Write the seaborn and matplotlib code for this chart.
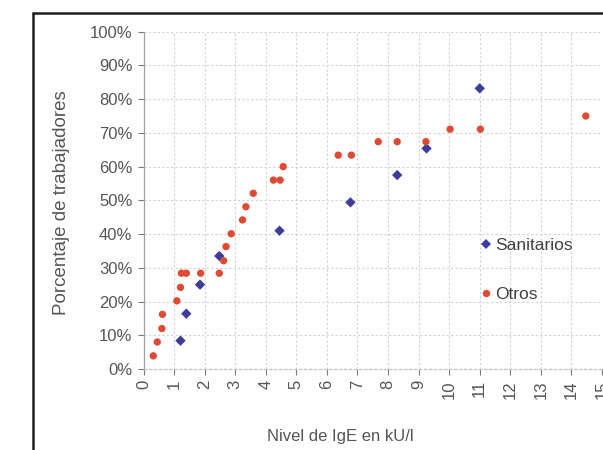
import matplotlib
matplotlib.use("Agg")
import matplotlib.pyplot as plt
import seaborn as sns
import pandas as pd
from matplotlib.ticker import PercentFormatter, MultipleLocator
from matplotlib.lines import Line2D

# Nivel de IgE (kU/l) y porcentaje acumulado de trabajadores
sanitarios_x = [1.21, 1.40, 1.85, 2.48, 4.45, 6.77, 8.30, 9.26, 11.00]
sanitarios_y = [8.4, 16.4, 25.0, 33.5, 41.0, 49.4, 57.5, 65.4, 83.2]

otros_x = [0.32, 0.45, 0.60, 0.62, 1.09, 1.21, 1.24, 1.40, 1.87, 2.48,
           2.62, 2.70, 2.87, 3.24, 3.35, 3.59, 4.25, 4.47, 4.57, 6.37,
           6.80, 7.68, 8.30, 9.24, 10.03, 11.02, 14.47]
otros_y = [3.9, 8.0, 12.0, 16.2, 20.2, 24.2, 28.4, 28.4, 28.4, 28.4,
           32.1, 36.3, 40.1, 44.2, 48.1, 52.1, 56.0, 56.0, 60.0, 63.4,
           63.4, 67.4, 67.4, 67.4, 71.1, 71.1, 75.0]

grupos = ["Sanitarios", "Otros"]
x_ticks = list(range(0, 16))

df = pd.DataFrame({
    "IgE": sanitarios_x + otros_x,
    "pct": sanitarios_y + otros_y,
    "grupo": [grupos[0]] * len(sanitarios_x) + [grupos[1]] * len(otros_x),
})

sns.set_theme(style="white")
plt.rcParams["font.family"] = ["Liberation Sans", "DejaVu Sans"]

W, H = 603, 450
fig = plt.figure(figsize=(W / 100, H / 100), dpi=100)
ax = fig.add_axes([143.5 / W, 1 - 369 / H, (602 - 143.5) / W, (369 - 31.7) / H])

palette = {"Sanitarios": "#3c3c9c", "Otros": "#e04a35"}
markers = {"Sanitarios": "D", "Otros": "o"}
sns.scatterplot(data=df, x="IgE", y="pct", hue="grupo", style="grupo",
                palette=palette, markers=markers, s=28, linewidth=0,
                ax=ax, legend=True)

ax.set_xlim(0, 15.0)
ax.set_ylim(0, 100)
ax.set_xticks(x_ticks)
ax.set_xticklabels([str(v) for v in x_ticks], rotation=90)
ax.yaxis.set_major_locator(MultipleLocator(10))
ax.yaxis.set_major_formatter(PercentFormatter(decimals=0))

grid_kw = dict(color="#d2d2d2", linestyle=(0, (2, 2)), linewidth=0.8)
ax.grid(True, which="major", axis="both", **grid_kw)

for side in ("top", "right"):
    ax.spines[side].set_visible(False)
ax.spines["left"].set_color("#a0a0a0")
ax.spines["bottom"].set_color("#c4c4c4")
ax.spines["bottom"].set_linestyle((0, (2, 2)))
ax.spines["left"].set_linewidth(0.9)
ax.spines["bottom"].set_linewidth(0.9)

ax.tick_params(axis="both", which="major", direction="out", length=4,
               width=0.8, color="#7a7a7a", labelcolor="#555555",
               labelsize=12, pad=4, left=True, bottom=True)

ax.set_xlabel("Nivel de IgE en kU/l", fontsize=12, color="#555555")
ax.xaxis.set_label_coords((340 - 143.5) / (602 - 143.5), -(437 - 369) / (369 - 31.7),
                          transform=None)
ax.xaxis.label.set_verticalalignment("center")
ax.set_ylabel("Porcentaje de trabajadores", fontsize=13.5, color="#555555")
ax.yaxis.set_label_coords(-(143.5 - 62) / (602 - 143.5), (369 - 203) / (369 - 31.7))
ax.yaxis.label.set_verticalalignment("center")

handles, labels = ax.get_legend_handles_labels()
ax.legend(handles=handles, labels=labels, loc="upper left",
          bbox_to_anchor=(463 / W, 1 - 222 / H), bbox_transform=fig.transFigure,
          frameon=False, fontsize=12.5, handletextpad=0.15, handlelength=0.8,
          labelspacing=1.95, labelcolor="#404040")

# outer chart frame
fig.add_artist(Line2D([33 / W, 33 / W], [0, 1 - 13 / H], color="#202020",
                      linewidth=1.8, transform=fig.transFigure))
fig.add_artist(Line2D([33 / W, 1], [1 - 13 / H, 1 - 13 / H], color="#202020",
                      linewidth=1.8, transform=fig.transFigure))

fig.savefig("out.png", dpi=100, facecolor="white")
